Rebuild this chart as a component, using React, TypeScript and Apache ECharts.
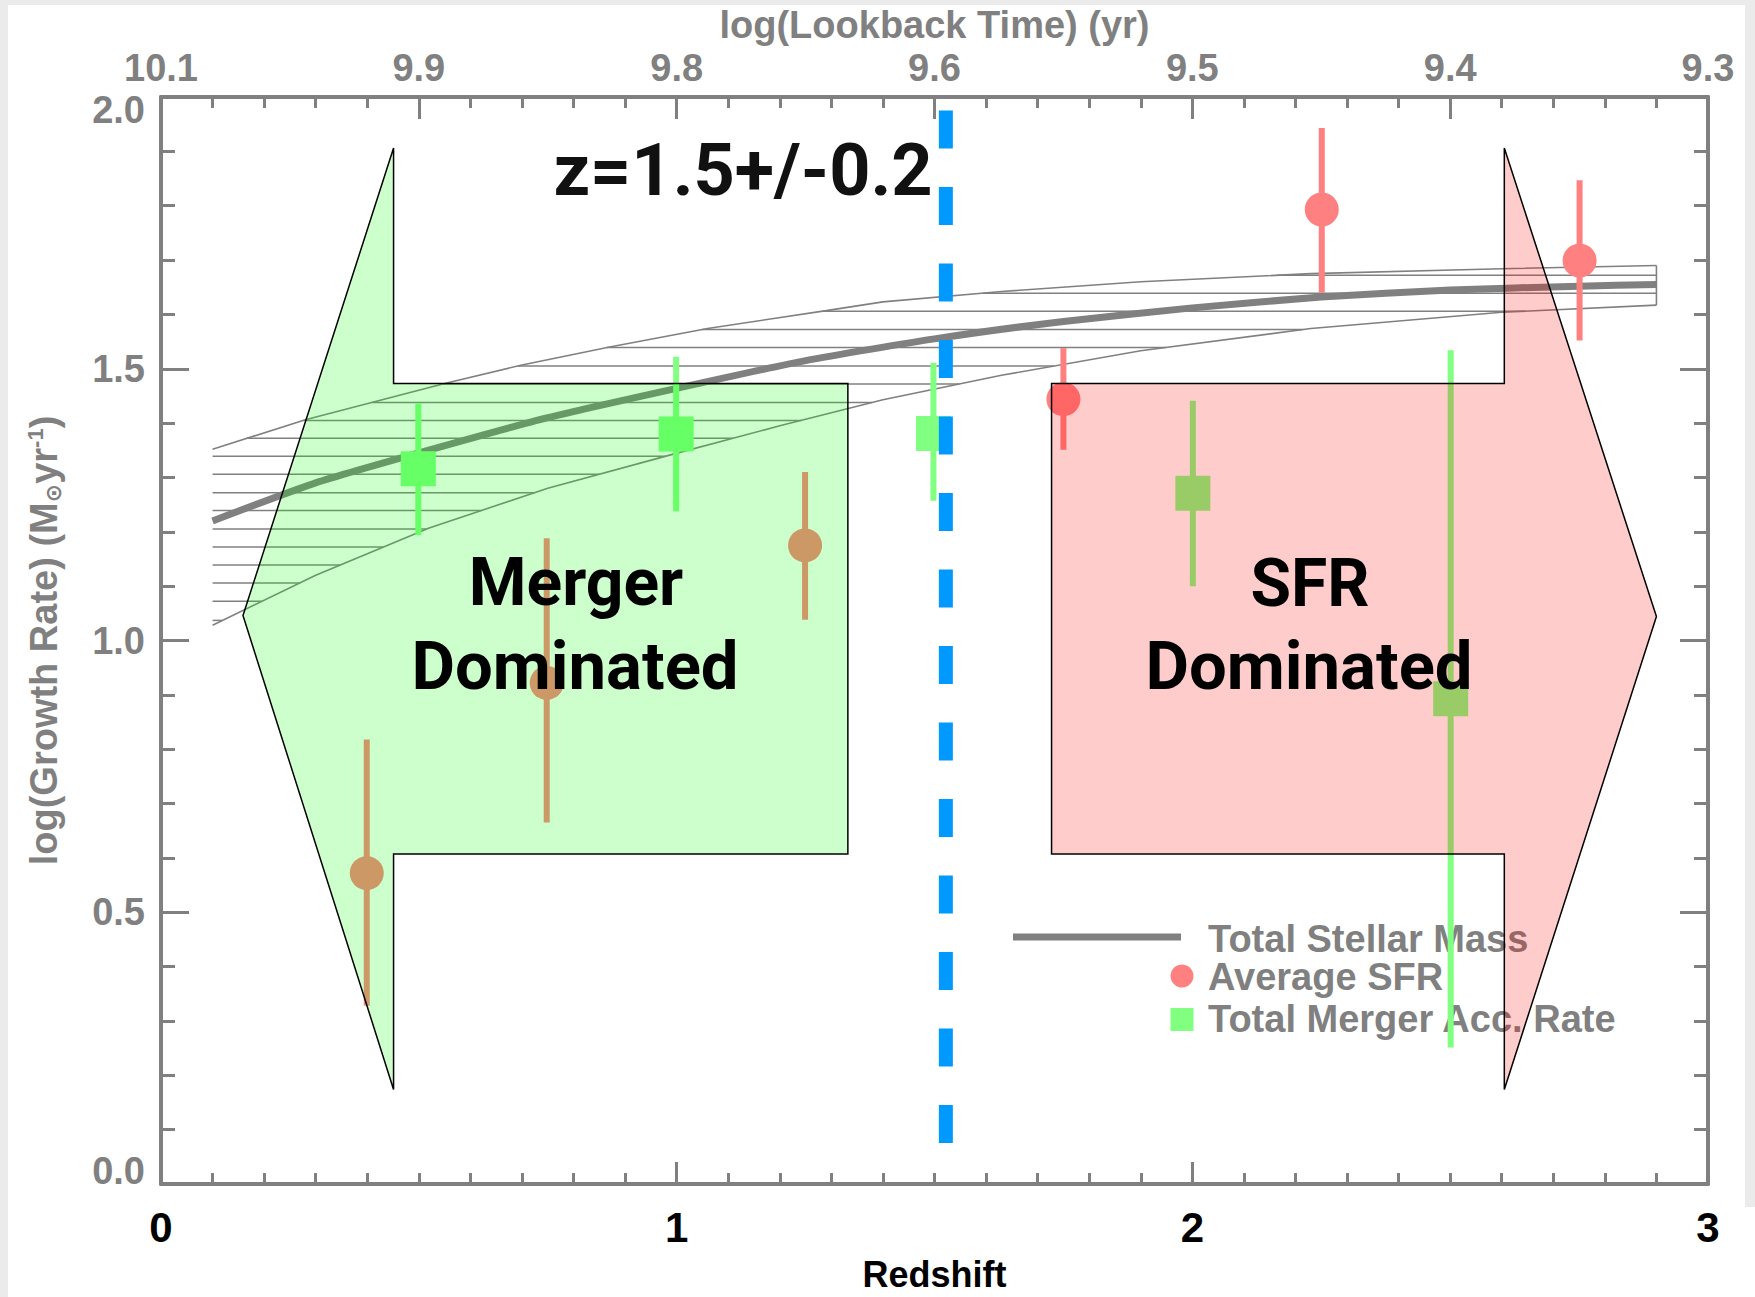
import React, { useEffect, useRef } from 'react';
import * as echarts from 'echarts';

// ---------- axes ----------
const redshiftTicks = [0, 1, 2, 3];
const lookbackTickZ = [0, 0.5, 1, 1.5, 2, 2.5, 3];
const lookbackLabels = ['10.1', '9.9', '9.8', '9.6', '9.5', '9.4', '9.3'];

// ---------- Total stellar mass curve and its uncertainty band ----------
const massZ = [0.1, 0.3, 0.5, 0.75, 1.0, 1.25, 1.5, 1.75, 2.0, 2.25, 2.5, 2.75, 2.9];
const massV = [1.22, 1.29, 1.345, 1.41, 1.464, 1.515, 1.555, 1.587, 1.612, 1.632, 1.645, 1.652, 1.655];

const upperZ = [0.1, 0.28, 0.55, 0.7, 0.87, 1.06, 1.29, 1.4, 1.63, 1.9, 2.23, 2.6, 2.9];
const upperV = [1.352, 1.406, 1.473, 1.507, 1.54, 1.574, 1.607, 1.623, 1.642, 1.66, 1.675, 1.684, 1.69];

const lowerZ = [0.1, 0.3, 0.52, 0.75, 0.99, 1.2, 1.4, 1.63, 1.9, 2.23, 2.6, 2.9];
const lowerV = [1.028, 1.12, 1.207, 1.28, 1.342, 1.395, 1.443, 1.488, 1.533, 1.574, 1.604, 1.617];

const hatchLevels = [
  1.037, 1.072, 1.106, 1.139, 1.172, 1.205, 1.239, 1.272, 1.306, 1.339,
  1.372, 1.405, 1.438, 1.472, 1.505, 1.539, 1.572, 1.606, 1.639, 1.672,
];

// ---------- Average SFR ----------
const sfrZ = [0.399, 0.748, 1.249, 1.75, 2.251, 2.751];
const sfrV = [0.572, 0.922, 1.175, 1.444, 1.793, 1.699];
const sfrLo = [0.328, 0.665, 1.038, 1.351, 1.64, 1.552];
const sfrHi = [0.818, 1.188, 1.31, 1.538, 1.943, 1.847];

// ---------- Total merger accretion rate ----------
const mergZ = [0.499, 0.999, 1.498, 2.001, 2.501];
const mergV = [1.316, 1.38, 1.381, 1.271, 0.893];
const mergLo = [1.194, 1.238, 1.257, 1.1, 0.251];
const mergHi = [1.436, 1.522, 1.511, 1.441, 1.534];

// ---------- Arrows ----------
const mergerArrowZ = [0.159, 0.451, 0.451, 1.332, 1.332, 0.451, 0.451];
const mergerArrowV = [1.046, 1.906, 1.473, 1.473, 0.607, 0.607, 0.174];
const sfrArrowZ = [2.9, 2.605, 2.605, 1.727, 1.727, 2.605, 2.605];
const sfrArrowV = [1.044, 1.906, 1.473, 1.473, 0.607, 0.607, 0.174];

// ---------- Transition redshift ----------
const dividerZ = 1.522;
const dividerV = [1.975, 0.075];

const GRAY = '#808080';
const FONT = 'Liberation Sans';

function crossing(zs: number[], vs: number[], level: number): number | null {
  for (let i = 0; i < vs.length - 1; i++) {
    if (level >= vs[i] && level <= vs[i + 1]) {
      const t = (level - vs[i]) / (vs[i + 1] - vs[i]);
      return zs[i] + t * (zs[i + 1] - zs[i]);
    }
  }
  return null;
}

function hatchSegments(): number[][] {
  const zMin = massZ[0];
  const zMax = massZ[massZ.length - 1];
  const segs: number[][] = [];
  hatchLevels.forEach((lv) => {
    let start: number | null;
    if (lv <= upperV[0]) start = zMin;
    else start = crossing(upperZ, upperV, lv);
    let end: number | null;
    if (lv >= lowerV[lowerV.length - 1]) end = zMax;
    else end = crossing(lowerZ, lowerV, lv);
    if (start != null && end != null && end > start) segs.push([start, end, lv]);
  });
  return segs;
}

export default function App() {
  const ref = useRef<HTMLDivElement>(null);

  useEffect(() => {
    if (!ref.current) return;
    const chart = echarts.init(ref.current, undefined, { renderer: 'svg' });

    const tickStyle = { color: GRAY, width: 3 };
    const zip = (a: number[], b: number[]) => a.map((x, i) => [x, b[i]]);
    const arrows = [
      { z: mergerArrowZ, v: mergerArrowV, fill: 'rgba(0,255,0,0.2)' },
      { z: sfrArrowZ, v: sfrArrowV, fill: 'rgba(255,0,0,0.2)' },
    ];

    const errorSeries = (zs: number[], lo: number[], hi: number[], color: string) => ({
      type: 'custom',
      z: 4,
      silent: true,
      data: zs.map((z, i) => [z, lo[i], hi[i]]),
      encode: { x: 0, y: [1, 2] },
      renderItem: (params: any, api: any) => {
        const p1 = api.coord([api.value(0), api.value(1)]);
        const p2 = api.coord([api.value(0), api.value(2)]);
        return {
          type: 'line',
          shape: { x1: p1[0], y1: p1[1], x2: p2[0], y2: p2[1] },
          style: { stroke: color, lineWidth: 6 },
        };
      },
    });

    const option: any = {
      animation: false,
      backgroundColor: 'transparent',
      grid: { left: 161, right: 47, top: 97, bottom: 108, containLabel: false },
      xAxis: [
        {
          type: 'value',
          position: 'bottom',
          min: 0,
          max: 3,
          interval: 1,
          axisLine: { show: true, onZero: false, lineStyle: { color: GRAY, width: 4 } },
          axisTick: { show: true, inside: true, length: 22, lineStyle: tickStyle },
          minorTick: { show: true, splitNumber: 10, length: 11, lineStyle: tickStyle },
          splitLine: { show: false },
          minorSplitLine: { show: false },
          axisLabel: {
            color: '#000',
            fontFamily: FONT,
            fontWeight: 'bold',
            fontSize: 42,
            margin: 22,
            showMinLabel: true,
            showMaxLabel: true,
            formatter: (v: number) => {
              const i = redshiftTicks.findIndex((t) => Math.abs(t - v) < 1e-6);
              return i >= 0 ? String(redshiftTicks[i]) : '';
            },
          },
          name: 'Redshift',
          nameLocation: 'middle',
          nameGap: 72,
          nameMoveOverlap: false,
          nameTextStyle: { color: '#000', fontFamily: FONT, fontWeight: 'bold', fontSize: 36 },
        },
        {
          type: 'value',
          position: 'top',
          min: 0,
          max: 3,
          interval: 0.5,
          axisLine: { show: true, onZero: false, lineStyle: { color: GRAY, width: 4 } },
          axisTick: { show: true, inside: true, length: 22, lineStyle: tickStyle },
          minorTick: { show: true, splitNumber: 5, length: 11, lineStyle: tickStyle },
          splitLine: { show: false },
          minorSplitLine: { show: false },
          axisLabel: {
            color: GRAY,
            fontFamily: FONT,
            fontWeight: 'bold',
            fontSize: 38,
            lineHeight: 30,
            margin: 14,
            showMinLabel: true,
            showMaxLabel: true,
            formatter: (v: number) => {
              const i = lookbackTickZ.findIndex((t) => Math.abs(t - v) < 1e-6);
              return i >= 0 ? lookbackLabels[i] : '';
            },
          },
          name: 'log(Lookback Time) (yr)',
          nameLocation: 'middle',
          nameGap: 57,
          nameMoveOverlap: false,
          nameTextStyle: { color: GRAY, fontFamily: FONT, fontWeight: 'bold', fontSize: 38, lineHeight: 30 },
        },
      ],
      yAxis: [
        {
          type: 'value',
          position: 'left',
          min: 0,
          max: 2,
          interval: 0.5,
          axisLine: { show: true, onZero: false, lineStyle: { color: GRAY, width: 4 } },
          axisTick: { show: true, inside: true, length: 28, lineStyle: tickStyle },
          minorTick: { show: true, splitNumber: 5, length: 14, lineStyle: tickStyle },
          splitLine: { show: false },
          minorSplitLine: { show: false },
          axisLabel: {
            color: GRAY,
            fontFamily: FONT,
            fontWeight: 'bold',
            fontSize: 38,
            lineHeight: 26,
            margin: 16,
            showMinLabel: true,
            showMaxLabel: true,
            verticalAlignMinLabel: 'bottom',
            verticalAlignMaxLabel: 'top',
            formatter: (v: number) => v.toFixed(1),
          },
          name: 'log(Growth Rate) (M{sun|⊙}yr{sup|-1})',
          nameLocation: 'middle',
          nameRotate: 90,
          nameGap: 97,
          nameMoveOverlap: false,
          nameTextStyle: {
            color: GRAY,
            fontFamily: FONT,
            fontWeight: 'bold',
            fontSize: 38,
            rich: {
              sun: { color: GRAY, fontFamily: 'DejaVu Sans', fontWeight: 'bold', fontSize: 22, verticalAlign: 'bottom', lineHeight: 40 },
              sup: { color: GRAY, fontFamily: FONT, fontWeight: 'bold', fontSize: 22, verticalAlign: 'top', lineHeight: 40 },
            },
          },
        },
        {
          type: 'value',
          position: 'right',
          min: 0,
          max: 2,
          interval: 0.5,
          axisLine: { show: true, onZero: false, lineStyle: { color: GRAY, width: 4 } },
          axisTick: { show: true, inside: true, length: 28, lineStyle: tickStyle },
          minorTick: { show: true, splitNumber: 5, length: 14, lineStyle: tickStyle },
          splitLine: { show: false },
          minorSplitLine: { show: false },
          axisLabel: { show: false },
        },
      ],
      series: [
        // hatch lines of the mass uncertainty band
        {
          type: 'custom',
          z: 2,
          silent: true,
          data: hatchSegments(),
          encode: { x: [0, 1], y: 2 },
          renderItem: (params: any, api: any) => {
            const p1 = api.coord([api.value(0), api.value(2)]);
            const p2 = api.coord([api.value(1), api.value(2)]);
            return {
              type: 'line',
              shape: { x1: p1[0], y1: p1[1], x2: p2[0], y2: p2[1] },
              style: { stroke: GRAY, lineWidth: 1.5 },
            };
          },
        },
        {
          type: 'line',
          z: 2,
          silent: true,
          symbol: 'none',
          data: zip(upperZ, upperV),
          lineStyle: { color: GRAY, width: 1.6 },
        },
        {
          type: 'line',
          z: 2,
          silent: true,
          symbol: 'none',
          data: zip(lowerZ, lowerV),
          lineStyle: { color: GRAY, width: 1.6 },
        },
        {
          type: 'line',
          z: 2,
          silent: true,
          symbol: 'none',
          data: [
            [lowerZ[lowerZ.length - 1], lowerV[lowerV.length - 1]],
            [upperZ[upperZ.length - 1], upperV[upperV.length - 1]],
          ],
          lineStyle: { color: GRAY, width: 1.6 },
        },
        {
          type: 'line',
          name: 'Total Stellar Mass',
          z: 3,
          silent: true,
          symbol: 'none',
          smooth: 0.2,
          data: zip(massZ, massV),
          lineStyle: { color: GRAY, width: 7 },
        },
        errorSeries(sfrZ, sfrLo, sfrHi, '#ff8080'),
        errorSeries(mergZ, mergLo, mergHi, '#80ff80'),
        {
          type: 'scatter',
          name: 'Average SFR',
          z: 5,
          silent: true,
          symbol: 'circle',
          symbolSize: 34,
          data: zip(sfrZ, sfrV),
          itemStyle: { color: '#ff8080', opacity: 1 },
        },
        {
          type: 'scatter',
          name: 'Total Merger Acc. Rate',
          z: 5,
          silent: true,
          symbol: 'rect',
          symbolSize: 35,
          data: zip(mergZ, mergV),
          itemStyle: { color: '#80ff80', opacity: 1 },
        },
        // translucent arrows
        {
          type: 'custom',
          z: 10,
          silent: true,
          data: arrows.map((a) => [a.z[0], a.v[0]]),
          encode: { x: 0, y: 1 },
          renderItem: (params: any, api: any) => {
            const a = arrows[params.dataIndex];
            const pts = a.z.map((z, i) => api.coord([z, a.v[i]]));
            return {
              type: 'polygon',
              shape: { points: pts },
              style: { fill: a.fill, stroke: '#000', lineWidth: 1.5 },
            };
          },
        },
        // dashed divider at z = 1.5
        {
          type: 'line',
          z: 20,
          silent: true,
          symbol: 'none',
          data: dividerV.map((v) => [dividerZ, v]),
          lineStyle: { color: '#0099ff', width: 14, type: [38, 38.5], cap: 'butt' },
        },
      ],
      graphic: [
        { type: 'line', z: 1, shape: { x1: 1013, y1: 937, x2: 1181, y2: 937 }, style: { stroke: GRAY, lineWidth: 7 } },
        { type: 'circle', z: 1, shape: { cx: 1182, cy: 976, r: 11.5 }, style: { fill: '#ff8080' } },
        { type: 'rect', z: 1, shape: { x: 1170.5, y: 1008, width: 23, height: 23 }, style: { fill: '#80ff80' } },
        {
          type: 'text', z: 1, x: 1208, y: 939,
          style: { text: 'Total Stellar Mass', fill: GRAY, fontFamily: FONT, fontWeight: 'bold', fontSize: 38, align: 'left', verticalAlign: 'middle' },
        },
        {
          type: 'text', z: 1, x: 1208, y: 977,
          style: { text: 'Average SFR', fill: GRAY, fontFamily: FONT, fontWeight: 'bold', fontSize: 38, align: 'left', verticalAlign: 'middle' },
        },
        {
          type: 'text', z: 1, x: 1208, y: 1019,
          style: { text: 'Total Merger Acc. Rate', fill: GRAY, fontFamily: FONT, fontWeight: 'bold', fontSize: 38, align: 'left', verticalAlign: 'middle' },
        },
        {
          type: 'text', z: 100, x: 743, y: 170,
          style: { text: 'z=1.5+/-0.2', fill: '#111', fontFamily: 'Roboto', fontWeight: 'bold', fontSize: 72, align: 'center', verticalAlign: 'middle' },
        },
        {
          type: 'text', z: 100, x: 576, y: 582,
          style: { text: 'Merger', fill: '#000', fontFamily: 'Roboto', fontWeight: 'bold', fontSize: 66, align: 'center', verticalAlign: 'middle' },
        },
        {
          type: 'text', z: 100, x: 575, y: 666,
          style: { text: 'Dominated', fill: '#000', fontFamily: 'Roboto', fontWeight: 'bold', fontSize: 67, align: 'center', verticalAlign: 'middle' },
        },
        {
          type: 'text', z: 100, x: 1310, y: 583,
          style: { text: 'SFR', fill: '#000', fontFamily: 'Roboto', fontWeight: 'bold', fontSize: 66, align: 'center', verticalAlign: 'middle' },
        },
        {
          type: 'text', z: 100, x: 1309, y: 666,
          style: { text: 'Dominated', fill: '#000', fontFamily: 'Roboto', fontWeight: 'bold', fontSize: 67, align: 'center', verticalAlign: 'middle' },
        },
      ],
    };

    chart.setOption(option);
    return () => chart.dispose();
  }, []);

  return (
    <div style={{ position: 'absolute', left: 0, top: 0, width: 1755, height: 1297, background: '#ebebeb', overflow: 'hidden' }}>
      <div style={{ position: 'absolute', left: 8, top: 5, width: 1737, height: 1292, background: '#ffffff' }} />
      <div style={{ position: 'absolute', left: 1745, top: 1207, width: 10, height: 90, background: '#ffffff' }} />
      <div ref={ref} style={{ position: 'absolute', left: 0, top: 0, width: 1755, height: 1297 }} />
    </div>
  );
}
